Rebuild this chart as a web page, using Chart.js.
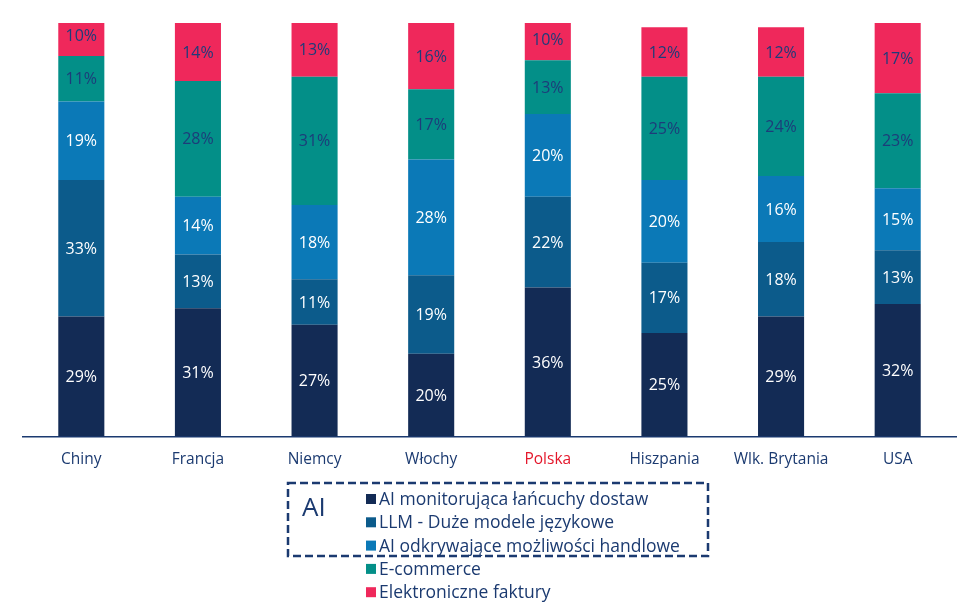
<!DOCTYPE html>
<html>
<head>
<meta charset="utf-8">
<script src="https://cdn.jsdelivr.net/npm/chart.js@4"></script>
<style>
  html, body { margin: 0; padding: 0; background: #fff; }
  #wrap { position: relative; width: 978px; height: 616px; }
</style>
</head>
<body>
<div id="wrap"><canvas id="wykres" width="978" height="616"></canvas></div>
<script>
// dane (%)
const kraje = ['Chiny', 'Francja', 'Niemcy', 'Włochy', 'Polska', 'Hiszpania', 'Wlk. Brytania', 'USA'];
const aiMonitorujaca = [29, 31, 27, 20, 36, 25, 29, 32];
const llm = [33, 13, 11, 19, 22, 17, 18, 13];
const aiOdkrywajace = [19, 14, 18, 28, 20, 20, 16, 15];
const eCommerce = [11, 28, 31, 17, 13, 25, 24, 23];
const eFaktury = [10, 14, 13, 16, 10, 12, 12, 17];

const GRANAT = '#1b3a70';
const CZERWONY = '#e4172b';
const FONT = '"Open Sans", Lato, sans-serif';

// etykiety wartości w środku segmentów
const etykietyPlugin = {
    id: 'etykiety',
    afterDatasetsDraw(chart) {
        const ctx = chart.ctx;
        ctx.save();
        ctx.font = '500 16px ' + FONT;
        ctx.textAlign = 'center';
        ctx.textBaseline = 'middle';
        chart.data.datasets.forEach((ds, i) => {
            const meta = chart.getDatasetMeta(i);
            meta.data.forEach((bar, j) => {
                const p = bar.getProps(['x', 'y', 'base'], true);
                const top = Math.max(p.y, chart.chartArea.top - 8);
                ctx.fillStyle = ds.kolorTekstu;
                ctx.fillText(ds.data[j] + '%', p.x, (top + p.base) / 2 + 1);
            });
        });
        ctx.restore();
    }
};

// legenda z ramką "AI"
const legendaPlugin = {
    id: 'legenda',
    afterDraw(chart) {
        const ctx = chart.ctx;
        ctx.save();
        ctx.strokeStyle = GRANAT;
        ctx.lineWidth = 2.5;
        ctx.setLineDash([8, 4]);
        ctx.strokeRect(288, 483, 420, 73);
        ctx.setLineDash([]);
        ctx.fillStyle = GRANAT;
        ctx.font = '500 26px ' + FONT;
        ctx.textAlign = 'left';
        ctx.textBaseline = 'middle';
        ctx.fillText('AI', 302, 509);
        ctx.font = '500 17.5px ' + FONT;
        chart.data.datasets.forEach((ds, i) => {
            const y = 499 + i * 23.3;
            ctx.fillStyle = ds.backgroundColor;
            ctx.fillRect(366, y - 5, 10, 10);
            ctx.fillStyle = GRANAT;
            ctx.fillText(ds.label, 379, y + 1);
        });
        ctx.restore();
    }
};

new Chart(document.getElementById('wykres'), {
    type: 'bar',
    data: {
        labels: kraje,
        datasets: [
            { label: 'AI monitorująca łańcuchy dostaw', data: aiMonitorujaca, backgroundColor: '#132b55', kolorTekstu: '#ffffff' },
            { label: 'LLM - Duże modele językowe', data: llm, backgroundColor: '#0c5b8b', kolorTekstu: '#ffffff' },
            { label: 'AI odkrywające możliwości handlowe', data: aiOdkrywajace, backgroundColor: '#0b79b7', kolorTekstu: '#ffffff' },
            { label: 'E-commerce', data: eCommerce, backgroundColor: '#038f88', kolorTekstu: '#1d3c7a' },
            { label: 'Elektroniczne faktury', data: eFaktury, backgroundColor: '#ef285b', kolorTekstu: '#1d3c7a' }
        ]
    },
    options: {
        responsive: false,
        animation: false,
        layout: { padding: { left: 23, right: 22, top: 23, bottom: 141 } },
        datasets: { bar: { barPercentage: 0.395, categoryPercentage: 1 } },
        plugins: {
            legend: { display: false },
            tooltip: { enabled: false }
        },
        scales: {
            x: {
                stacked: true,
                grid: { display: false },
                border: { display: true, color: GRANAT, width: 1.5 },
                ticks: {
                    padding: 6,
                    font: { family: FONT, size: 15.5, weight: '500' },
                    color: (c) => c.index === 4 ? CZERWONY : GRANAT
                }
            },
            y: {
                stacked: true,
                display: false,
                min: 0,
                max: 100
            }
        }
    },
    plugins: [etykietyPlugin, legendaPlugin]
});
</script>
</body>
</html>
